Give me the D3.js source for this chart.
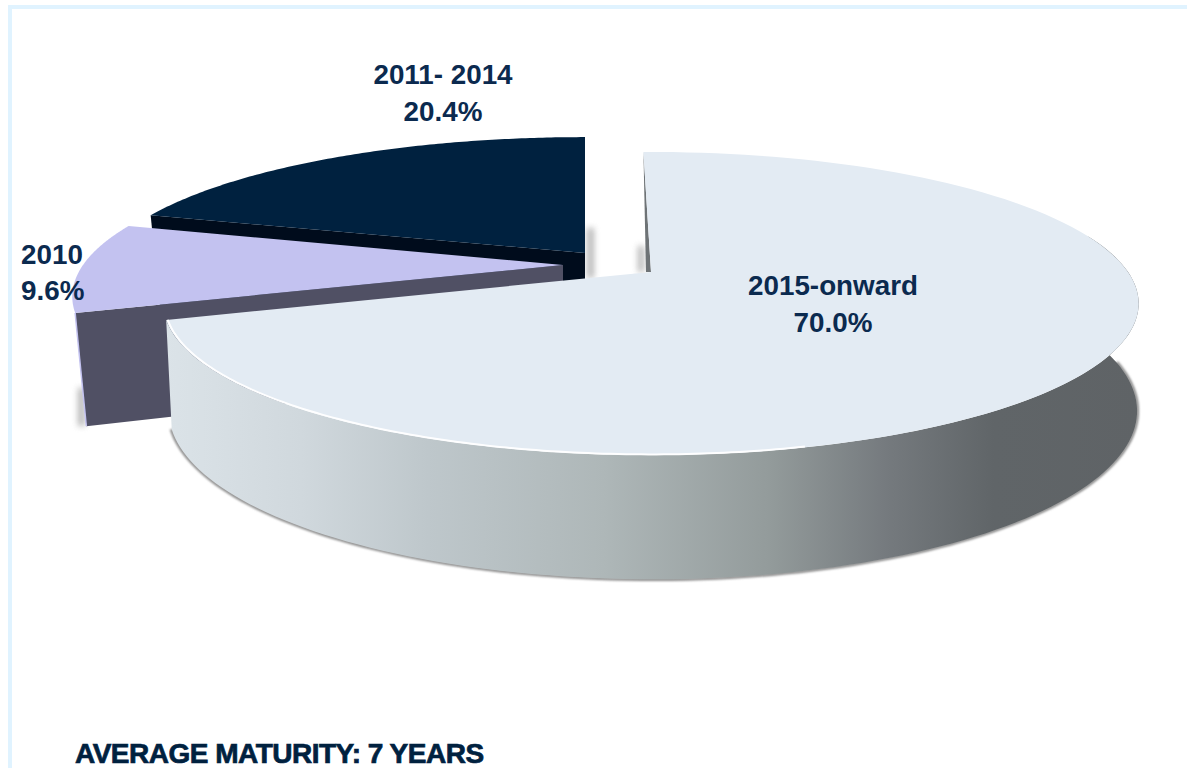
<!DOCTYPE html>
<html><head><meta charset="utf-8">
<style>html,body{margin:0;padding:0;background:#fff;overflow:hidden}svg{display:block}text{font-family:"Liberation Sans",Arial,sans-serif;font-weight:700;fill:#0b2a4f}</style>
<script src="https://cdn.jsdelivr.net/npm/d3@7/dist/d3.min.js"></script>
</head><body><script>
const categories = ["2015-onward", "2010", "2011- 2014"];
const shares = [70.0, 9.6, 20.4];
const percentLabels = ["70.0%", "9.6%", "20.4%"];
const footnote = "AVERAGE MATURITY: 7 YEARS";

const W = 1187, H = 768;
const svg = d3.select("body").append("svg").attr("width", W).attr("height", H);
const defs = svg.append("defs");

// frame
svg.append("rect").attr("x",8).attr("y",5).attr("width",W-8).attr("height",4).attr("fill","#e0f3ff");
svg.append("rect").attr("x",8).attr("y",5).attr("width",4).attr("height",H-5).attr("fill","#e0f3ff");

// perspective model of the disc
const cfg = { k: 0.208, aBot: 161 };
const exploded = [
  {x:651, y:272, b:477, a:145, drop:104, bBot:473.5, dxBot:2, fill:"#e3ebf3", wall:"url(#wallGrad)"},
  {x:563, y:265, b:480, a:145, drop:108, bBot:469, dxBot:0, fill:"#c3c2f0", wall:"#505064"},
  {x:585, y:253, b:480, a:140, drop:104, bBot:469, dxBot:0, fill:"#00213f", wall:"#000c1c"}
];
function project(o, theta, r, bottom) {
  const X = r*Math.sin(theta), Y = r*Math.cos(theta), s = 1 + cfg.k*Y;
  return bottom
    ? [o.x + o.dxBot + o.bBot*X/s, o.y + o.drop - cfg.aBot*Y/s]
    : [o.x + o.b*X/s,              o.y - o.a*Y/s];
}
const line = d3.line();
const rad = d => d*Math.PI/180;
const arcs = d3.pie().sort(null).value(d=>d)(shares);
arcs[0].startAngle = rad(-1.1);   // slight lean of the main slice's back edge

function sample(a0, a1, r, bottom, o) {
  const n = 120;
  return d3.range(n+1).map(i => project(o, a0+(a1-a0)*i/n, r, bottom));
}

const grad = defs.append("linearGradient").attr("id","wallGrad").attr("gradientUnits","userSpaceOnUse")
  .attr("x1",165).attr("x2",1140).attr("y1",0).attr("y2",0);
[[0,"#dbe3e8"],[0.14,"#d0d8dd"],[0.27,"#bec7cb"],[0.45,"#aeb7b8"],[0.62,"#939b9b"],[0.74,"#757a7e"],[0.85,"#606568"],[1,"#5f6366"]]
  .forEach(s=>grad.append("stop").attr("offset",s[0]).attr("stop-color",s[1]));
const blur = (id,d)=>defs.append("filter").attr("id",id).attr("x","-50%").attr("y","-50%").attr("width","200%").attr("height","200%")
  .append("feGaussianBlur").attr("stdDeviation",d);
blur("blur",3); blur("blurThin",1);

// soft shadows
const shadows = svg.append("g").attr("filter","url(#blur)").attr("fill","#8f8f8f").attr("opacity",0.65);
shadows.append("rect").attr("x",587).attr("y",228).attr("width",7).attr("height",50);
shadows.append("rect").attr("x",638).attr("y",246).attr("width",6).attr("height",26);
shadows.append("rect").attr("x",78).attr("y",388).attr("width",7).attr("height",38);

// navy slice, then lavender, then main: back to front
function cutWall(o, theta, g) {
  const pts = [project(o,theta,1,false), project(o,0,0,false), project(o,0,0,true), project(o,theta,1,true)];
  g.append("path").attr("d", line(pts)+"Z").attr("fill", o.wall);
}
function face(o, a, g) {
  const pts = [project(o,0,0,false)].concat(sample(a.startAngle,a.endAngle,1,false,o));
  g.append("path").attr("d", line(pts)+"Z").attr("fill", o.fill);
}
const gNavy = svg.append("g"), gLav = svg.append("g"), gMain = svg.append("g");

cutWall(exploded[2], arcs[2].startAngle, gNavy);
face(exploded[2], arcs[2], gNavy);

cutWall(exploded[1], arcs[1].startAngle, gLav);
face(exploded[1], arcs[1], gLav);
gLav.append("path")
  .attr("d", line([project(exploded[1],arcs[1].startAngle,1,false), project(exploded[1],arcs[1].startAngle,1,true)]))
  .attr("stroke","#c3c2f0").attr("stroke-width",1.5).attr("fill","none");

// main slice
const m = exploded[0], A = arcs[0];
// grey contact shadow along the bottom outline
gMain.append("path").attr("d", line(sample(rad(85), A.endAngle, 1.001, true, m)))
  .attr("fill","none").attr("stroke","#8a8a8a").attr("stroke-width",3).attr("filter","url(#blurThin)");
const wallTop = sample(rad(75), A.endAngle, 1, false, m);
const wallBot = sample(rad(75), A.endAngle, 1, true, m).reverse();
gMain.append("path").attr("d", line(wallTop.concat(wallBot))+"Z").attr("fill", m.wall);
// thin back-edge wedge of the main slice
const far = project(m,A.startAngle,1,false), apex = project(m,0,0,false);
gMain.append("path").attr("d", line([far, apex, [apex[0]-5, apex[1]]])+"Z").attr("fill","#6e7376");
face(m, A, gMain);
gMain.append("path").attr("d", line(sample(rad(165), A.endAngle, 0.997, false, m)))
  .attr("fill","none").attr("stroke","#ffffff").attr("stroke-width",2).attr("opacity",0.95);

// labels
const labelAt = [[833,295,332,"middle"],[21,264,300,"start"],[443,84,121,"middle"]];
categories.forEach((c,i)=>{
  const p = labelAt[i];
  svg.append("text").attr("x",p[0]).attr("y",p[1]).attr("text-anchor",p[3]).attr("font-size",27.8).text(c);
  svg.append("text").attr("x",p[0]).attr("y",p[2]).attr("text-anchor",p[3]).attr("font-size",27.8).text(percentLabels[i]);
});
svg.append("text").attr("x",75).attr("y",763).attr("font-size",28).attr("letter-spacing",-0.5)
  .style("stroke","#00213f").style("stroke-width",0.7).style("fill","#00213f").text(footnote);
</script></body></html>
